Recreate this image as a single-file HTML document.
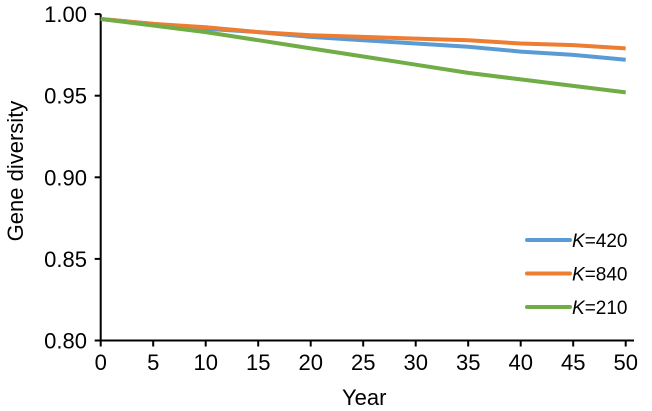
<!DOCTYPE html>
<html><head><meta charset="utf-8"><style>
body{margin:0;background:#fff}
svg{display:block;font-family:"Liberation Sans",Arial,sans-serif}
</style></head><body>
<svg id="chart" width="652" height="411" xmlns="http://www.w3.org/2000/svg"></svg>
<script>
const years=[0,5,10,15,20,25,30,35,40,45,50];
const k420=[0.997,0.994,0.991,0.989,0.986,0.984,0.982,0.980,0.977,0.975,0.972];
const k840=[0.997,0.994,0.992,0.989,0.987,0.986,0.985,0.984,0.982,0.981,0.979];
const k210=[0.997,0.993,0.989,0.984,0.979,0.974,0.969,0.964,0.960,0.956,0.952];
const xTicks=[0,5,10,15,20,25,30,35,40,45,50];
const yTicks=[0.80,0.85,0.90,0.95,1.00];
const seriesNames=["K=420","K=840","K=210"];
const NS="http://www.w3.org/2000/svg";
const svg=document.getElementById('chart');
const X=v=>100.7+v*10.5;
const Y=v=>340.5-(v-0.8)*1632;
function mk(t,a,p){const e=document.createElementNS(NS,t);for(const k in a)e.setAttribute(k,a[k]);(p||svg).appendChild(e);return e;}
let ax=mk('line',{x1:X(0),y1:Y(1),x2:X(0),y2:Y(0.8),stroke:'#000','stroke-width':2});


let bx=mk('line',{x1:X(0)-1,y1:Y(0.8),x2:634,y2:Y(0.8),stroke:'#000','stroke-width':2});


yTicks.forEach(v=>{
  mk('line',{x1:X(0)-6,y1:Y(v),x2:X(0),y2:Y(v),stroke:'#000','stroke-width':2});
  const t=mk('text',{x:87,y:Y(v)+8,'text-anchor':'end','font-size':22});
  t.textContent=v.toFixed(2);
  
  
});
xTicks.forEach(v=>{
  mk('line',{x1:X(v),y1:Y(0.8),x2:X(v),y2:Y(0.8)+6,stroke:'#000','stroke-width':2});
  const t=mk('text',{x:X(v),y:370,'text-anchor':'middle','font-size':22});
  t.textContent=v;
  
  
});
let xt=mk('text',{x:X(25)+1,y:405,'text-anchor':'middle','font-size':22});
xt.textContent='Year';


let yt=mk('text',{x:0,y:0,'text-anchor':'middle','font-size':22,transform:'translate(23,171) rotate(-90)'});
yt.textContent='Gene diversity';


const colors=['#5b9bd5','#ed7d31','#70ad47'];
[k420,k840,k210].forEach((s,i)=>{
  const d=s.map((v,j)=>(j?'L':'M')+X(years[j]).toFixed(1)+','+Y(v).toFixed(1)).join(' ');
  const p=mk('path',{d:d,fill:'none',stroke:colors[i],'stroke-width':4,'stroke-linejoin':'round'});
  
  
});
seriesNames.forEach((n,i)=>{
  const g=mk('g',{});
  
  
  const yy=240+i*33.5;
  mk('line',{x1:527,y1:yy,x2:570,y2:yy,stroke:colors[i],'stroke-width':4,'stroke-linecap':'round'},g);
  const t=mk('text',{x:572,y:yy+7,'font-size':19},g);
  const k=mk('tspan',{'font-style':'italic'},t);k.textContent='K';
  const r=mk('tspan',{},t);r.textContent='='+n.split('=')[1];
});
</script>
</body></html>
